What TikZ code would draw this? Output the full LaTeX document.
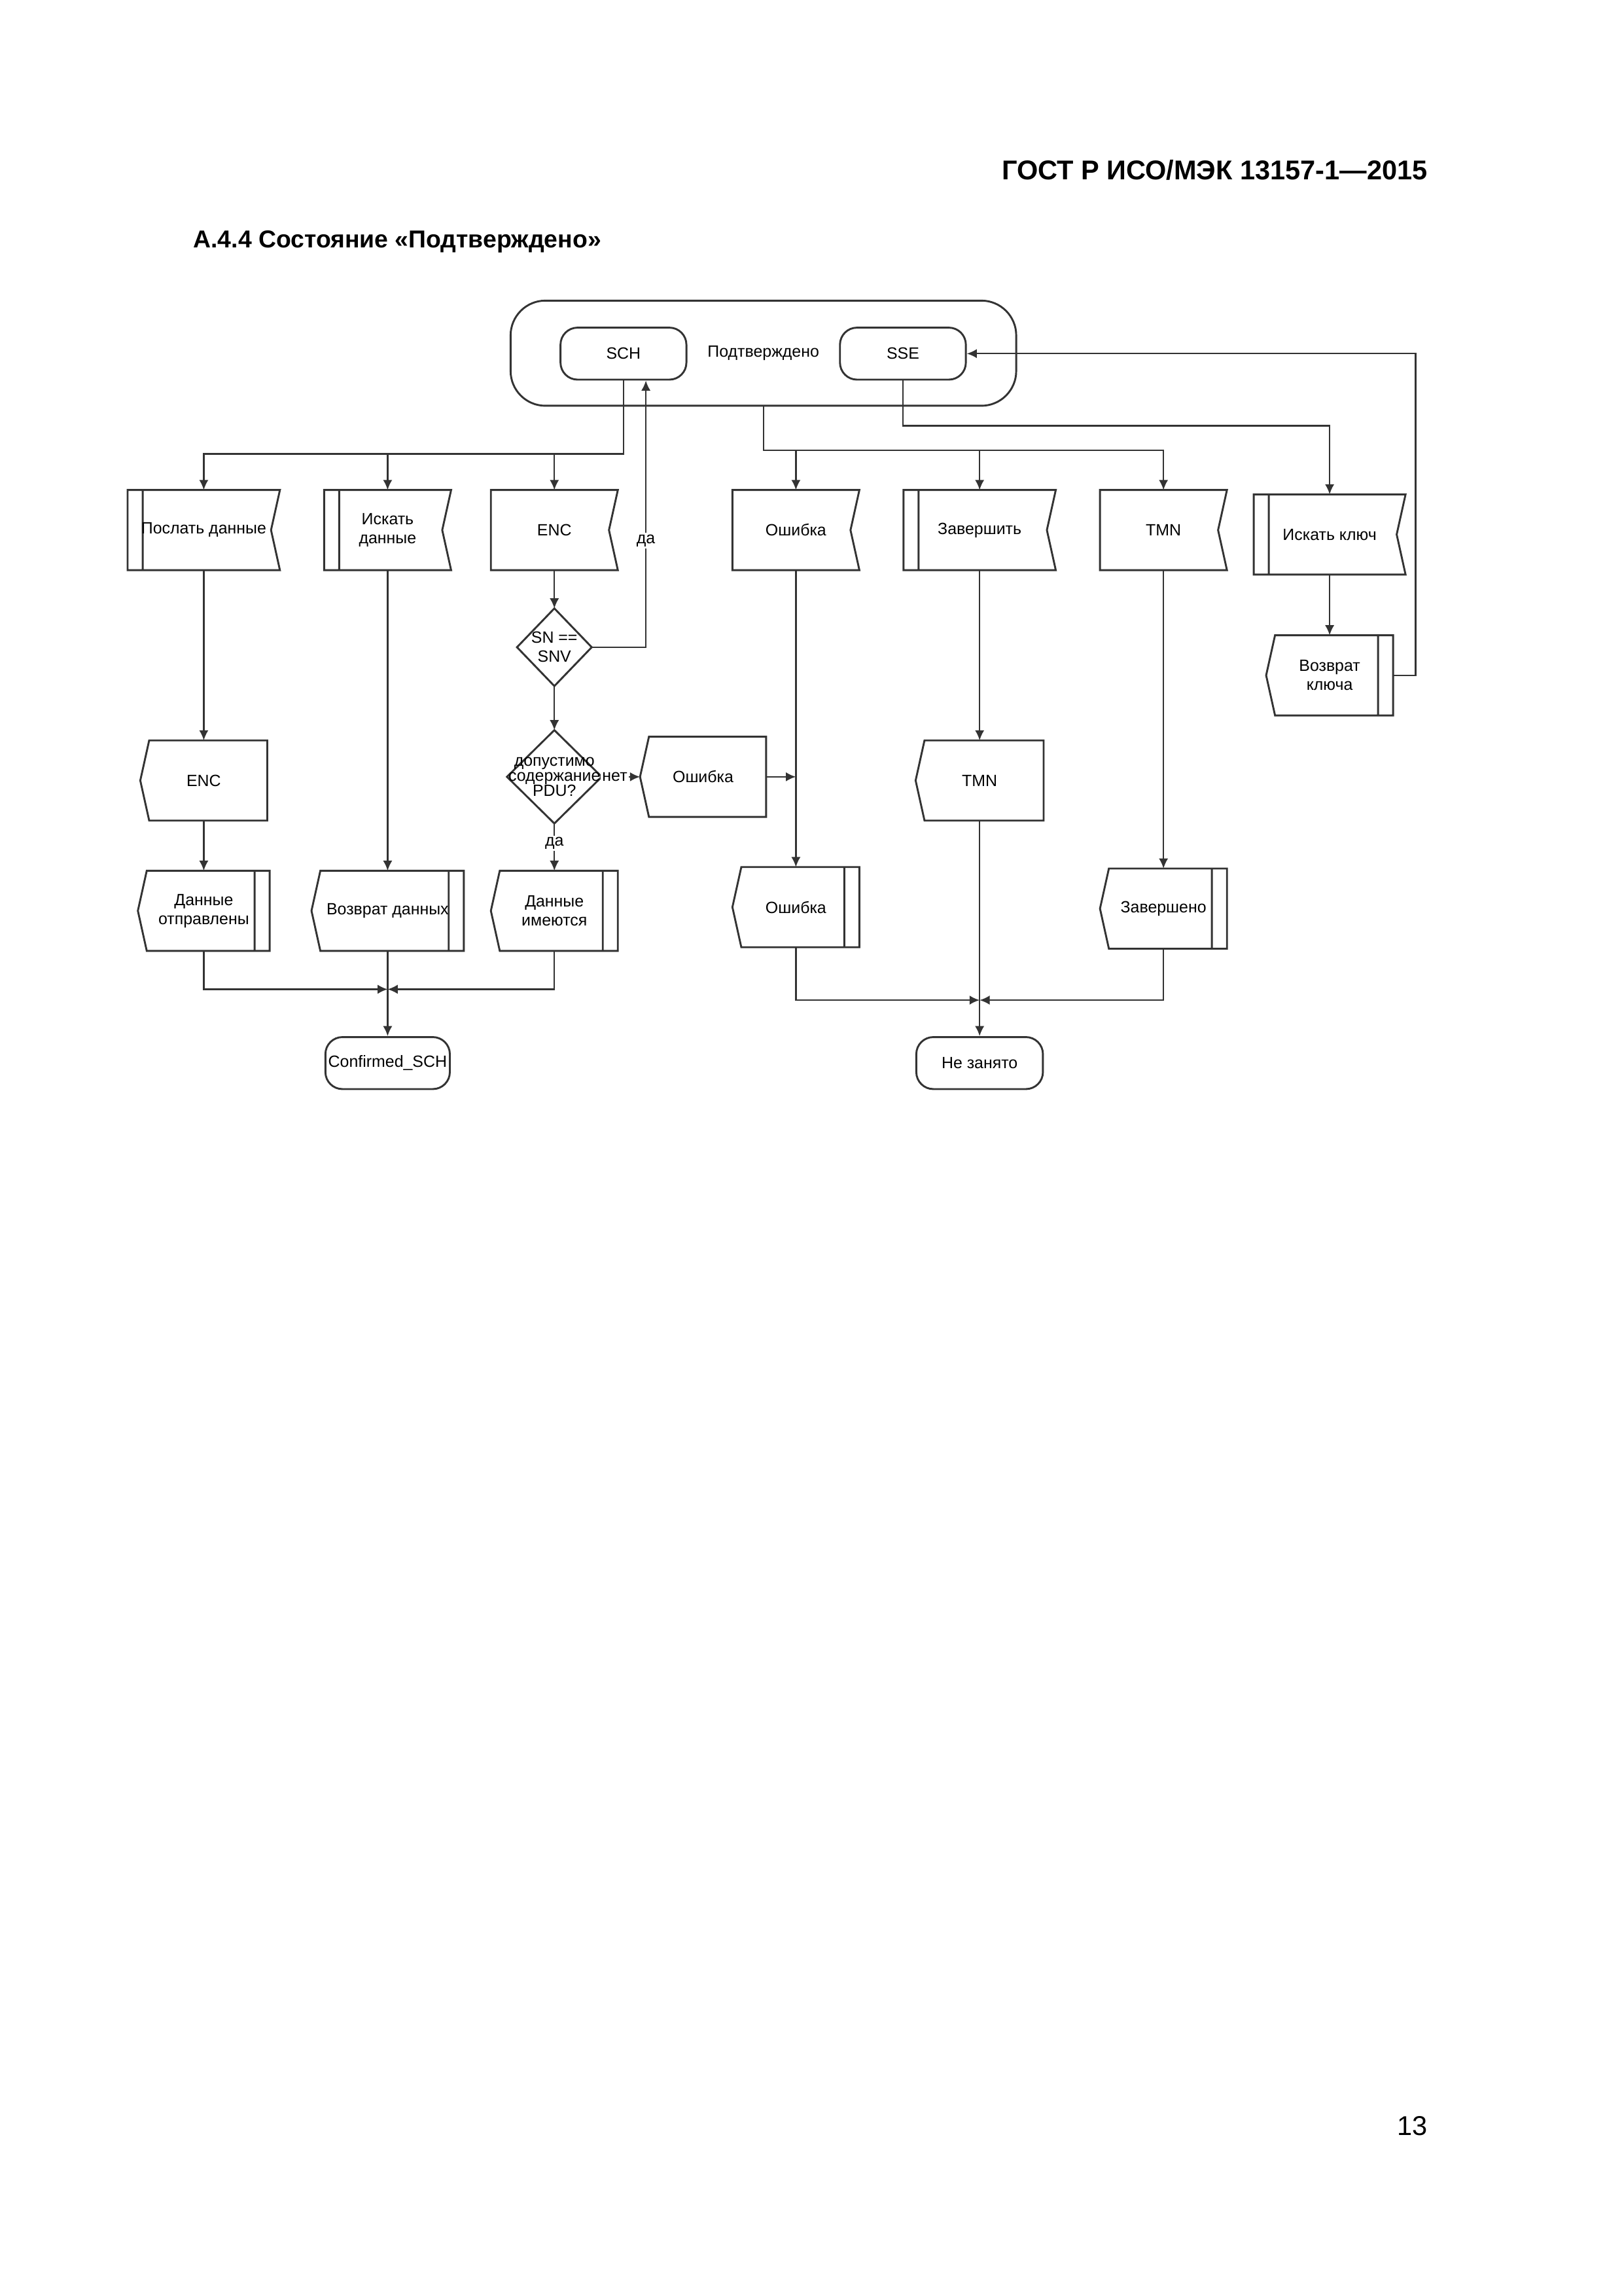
\documentclass[tikz,border=0pt]{standalone}
\usepackage{fontspec}
\setmainfont{Liberation Sans}
\usetikzlibrary{arrows.meta}

\newcommand{\un}{0.018936cm}
\newcommand{\notchw}{0.115cm}
\newcommand{\barw}{0.195cm}
\newcommand{\dfont}{\fontsize{6}{7}\selectfont}

\begin{document}
\begin{tikzpicture}[
  x=0.018936cm, y=-0.018936cm,
  outl/.style={draw=black!80, line width=0.7pt},
  txt/.style={font=\dfont, inner sep=0pt, align=center},
  blk/.style={txt, rectangle, minimum height=54*\un},
  head/.style={font=\bfseries\fontsize{10}{12}\selectfont, inner sep=0pt},
  subhead/.style={font=\bfseries\fontsize{9}{11}\selectfont, inner sep=0pt},
  pnum/.style={font=\fontsize{10}{12}\selectfont, inner sep=0pt},
  term/.style={txt, outl, rounded corners=0.22cm, minimum width=86*\un, minimum height=35.5*\un},
  inbox/.style={blk, minimum width=#1*\un, append after command={\pgfextra{
    \draw[outl] (\tikzlastnode.north west) -- (\tikzlastnode.north east)
      -- ([xshift=-\notchw]\tikzlastnode.east) -- (\tikzlastnode.south east)
      -- (\tikzlastnode.south west) -- cycle;}}},
  inbox/.default=86,
  inproc/.style={blk, minimum width=#1*\un, append after command={\pgfextra{
    \draw[outl] (\tikzlastnode.north west) -- (\tikzlastnode.north east)
      -- ([xshift=-\notchw]\tikzlastnode.east) -- (\tikzlastnode.south east)
      -- (\tikzlastnode.south west) -- cycle
      ([xshift=\barw]\tikzlastnode.north west) -- ([xshift=\barw]\tikzlastnode.south west);}}},
  inproc/.default=86,
  outbox/.style={blk, minimum width=#1*\un, append after command={\pgfextra{
    \draw[outl] ([xshift=\notchw]\tikzlastnode.north west) -- (\tikzlastnode.north east)
      -- (\tikzlastnode.south east) -- ([xshift=\notchw]\tikzlastnode.south west)
      -- (\tikzlastnode.west) -- cycle;}}},
  outbox/.default=86,
  outproc/.style={blk, minimum width=#1*\un, append after command={\pgfextra{
    \draw[outl] ([xshift=\notchw]\tikzlastnode.north west) -- (\tikzlastnode.north east)
      -- (\tikzlastnode.south east) -- ([xshift=\notchw]\tikzlastnode.south west)
      -- (\tikzlastnode.west) -- cycle
      ([xshift=-\barw]\tikzlastnode.north east) -- ([xshift=-\barw]\tikzlastnode.south east);}}},
  outproc/.default=86,
  decide/.style={txt, rectangle, append after command={\pgfextra{
    \draw[outl] (\tikzlastnode.north) -- (\tikzlastnode.east) -- (\tikzlastnode.south)
      -- (\tikzlastnode.west) -- cycle;}}},
  conn/.style={draw=black!80, line width=0.55pt},
  flow/.style={conn, -{Latex[length=1.3mm, width=1.2mm]}},
  lbl/.style={txt, fill=white, inner sep=0.6pt}
]
  \useasboundingbox (0,0) rectangle (1109,1568);

  % Заголовки страницы
  \node[head, anchor=base east] (gost) at (975.5,122.5) {ГОСТ Р ИСО/МЭК 13157-1—2015};
  \node[subhead, anchor=base west] (sec) at (131.7,169) {А.4.4 Состояние «Подтверждено»};
  \node[pnum, anchor=base east] (page) at (975.5,1458.4) {13};

  % Состояние и его входы
  \node[term, minimum width=345.4*\un, minimum height=71.8*\un, rounded corners=0.45cm] (st) at (521.5,241.2) {Подтверждено};
  \node[term] (sch) at (425.9,241.5) {SCH};
  \node[term] (sse) at (616.8,241.5) {SSE};

  % Верхний ряд
  \node[inproc=103.3] (send) at (139.2,362) {Послать данные};
  \node[inproc] (seek) at (264.8,362) {Искать\\данные};
  \node[inbox] (enc) at (378.7,362) {ENC};
  \node[inbox] (err) at (543.7,362) {Ошибка};
  \node[inproc=103.3] (fin) at (669.2,362) {Завершить};
  \node[inbox] (tmn) at (794.8,362) {TMN};
  \node[inproc=103] (key) at (908.3,365) {Искать ключ};

  % Проверки
  \node[decide, minimum width=50.3*\un, minimum height=52.3*\un] (q1) at (378.7,442) {SN ==\\SNV};
  \node[decide, minimum width=64*\un, minimum height=63*\un, font=\fontsize{6}{5.6}\selectfont] (q2) at (378.7,530.5) {допустимо\\содержание\\PDU?};

  % Средний ряд
  \node[outbox] (enc2) at (139.2,533) {ENC};
  \node[outbox=85.4] (err2) at (480.3,530.5) {Ошибка};
  \node[outbox=86.7] (tmn2) at (669.2,533) {TMN};
  \node[outproc] (rkey) at (908.3,461.2) {Возврат\\ключа};

  % Нижний ряд
  \node[outproc=89.3] (sent) at (139.2,622) {Данные\\отправлены};
  \node[outproc=103.3] (rdat) at (264.8,622) {Возврат данных};
  \node[outproc] (have) at (378.7,622) {Данные\\имеются};
  \node[outproc] (err3) at (543.7,619.5) {Ошибка};
  \node[outproc] (done) at (794.8,620.5) {Завершено};

  % Конечные состояния
  \node[term, minimum width=85*\un] (csch) at (264.8,726) {Confirmed\_SCH};
  \node[term, minimum width=86.5*\un] (free) at (669.2,726) {Не занято};

  % Ветвления
  \coordinate (bs) at (0,290.8);
  \coordinate (br) at (0,307.5);
  \coordinate (bl) at (0,310);
  \draw[flow] (sch.south) -- (sch.south |- bl) -| (send.north);
  \draw[flow] (seek.north |- bl) -- (seek.north);
  \draw[flow] (enc.north |- bl) -- (enc.north);
  \draw[flow] (st.south) -- (st.south |- br) -| (tmn.north);
  \draw[flow] (err.north |- br) -- (err.north);
  \draw[flow] (fin.north |- br) -- (fin.north);
  \draw[flow] (sse.south) -- (sse.south |- bs) -| (key.north);

  % Связи
  \draw[flow] (send) -- (enc2);
  \draw[flow] (enc2) -- (sent);
  \draw[flow] (seek) -- (rdat);
  \draw[flow] (enc) -- (q1);
  \draw[flow] (q1) -- (q2);
  \draw[flow] (q1.east) -| ([xshift=0.29cm]sch.south) node[lbl, pos=0.7] {да};
  \draw[flow] (q2) -- node[lbl, pos=0.34] {нет} (err2);
  \draw[flow] (q2) -- node[lbl, pos=0.42] {да} (have);
  \draw[flow] (err2.east) -- (err2.east -| err.south);
  \draw[flow] (err) -- (err3);
  \draw[flow] (fin) -- (tmn2);
  \draw[flow] (tmn) -- (done);
  \draw[flow] (key) -- (rkey);

  % Возврат к SSE
  \coordinate (fb) at (967,461.2);
  \draw[flow] (rkey.east) -- (fb) |- (sse.east);

  % Слияния
  \coordinate (ml) at (264.8,675.6);
  \coordinate (mr) at (669.2,683);
  \draw[flow] (sent.south) |- (ml);
  \draw[flow] (have.south) |- (ml);
  \draw[flow] (rdat) -- (csch);
  \draw[flow] (err3.south) |- (mr);
  \draw[flow] (done.south) |- (mr);
  \draw[flow] (tmn2) -- (free);

\end{tikzpicture}
\end{document}
